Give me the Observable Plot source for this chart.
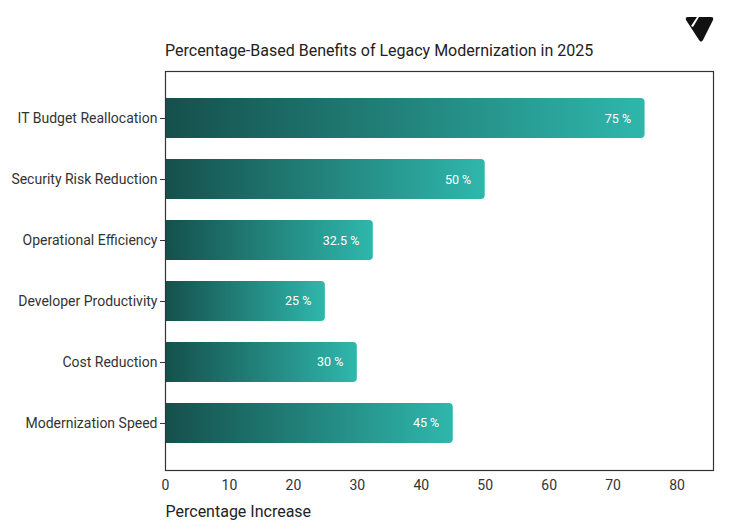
<!DOCTYPE html>
<html>
<head>
<meta charset="utf-8">
<script src="https://cdn.jsdelivr.net/npm/d3@7"></script>
<script src="https://cdn.jsdelivr.net/npm/@observablehq/plot@0.6"></script>
<style>
  body { margin: 0; background: #fff; font-family: Roboto, "Noto Sans", sans-serif; }
  #wrap { position: relative; width: 731px; height: 531px; }
  #title { position: absolute; left: 165px; top: 41px; font-size: 16px; color: #222; white-space: nowrap; }
  #logo { position: absolute; left: 684px; top: 16px; }
  #chart { position: absolute; left: 0; top: 0; }
</style>
</head>
<body>
<div id="wrap">
  <div id="chart"></div>
  <div id="title">Percentage-Based Benefits of Legacy Modernization in 2025</div>
  <svg id="logo" width="32" height="28" viewBox="0 0 32 28">
    <path d="M2 4 Q1 1 4 1 L13 1 L7 10 L9 11 L15 1 L27 1 Q30 1 29 4 L19 24 Q17 27 15 24 Z" fill="#111"/>
  </svg>
</div>
<script>
const categories = ["IT Budget Reallocation", "Security Risk Reduction", "Operational Efficiency", "Developer Productivity", "Cost Reduction", "Modernization Speed"];
const values = [75, 50, 32.5, 25, 30, 45];
const xTicks = [0, 10, 20, 30, 40, 50, 60, 70, 80];
const xLabel = "Percentage Increase";

const data = categories.map((c, i) => ({category: c, value: values[i]}));

const gradient = () => {
  const defs = d3.create("svg:defs");
  const g = defs.append("linearGradient").attr("id", "barGrad")
    .attr("x1", "0").attr("x2", "1").attr("y1", "0").attr("y2", "0");
  g.append("stop").attr("offset", "0%").attr("stop-color", "#15504c");
  g.append("stop").attr("offset", "100%").attr("stop-color", "#2fb7ac");
  return defs.node();
};

const chart = Plot.plot({
  width: 731,
  height: 531,
  marginLeft: 165,
  marginRight: 18,
  marginTop: 71,
  marginBottom: 61,
  style: {fontFamily: "Roboto, sans-serif", fontSize: "13px", color: "#333", background: "transparent"},
  x: {domain: [0, 85.7], ticks: xTicks, tickSize: 0, label: null},
  y: {domain: categories, paddingInner: 0.344, paddingOuter: 0.443, round: false, label: null},
  marks: [
    gradient,
    Plot.barX(data, {x: "value", y: "category", fill: "url(#barGrad)", rx2: 4}),
    Plot.text(data, {x: "value", y: "category", text: d => `${d.value} %`, textAnchor: "end", dx: -14, fill: "white", fontSize: 12.5, fontWeight: 400}),
    Plot.axisX({ticks: xTicks, tickSize: 0, tickPadding: 10, fontSize: 14, label: null}),
    Plot.axisY({tickSize: 5, tickPadding: 3, fontSize: 14, label: null}),
    Plot.text([xLabel], {frameAnchor: "bottom-left", text: d => d, dy: 46, fontSize: 16, textAnchor: "start", fill: "#222"}),
    Plot.frame({stroke: "#333", strokeWidth: 1.2})
  ]
});
document.getElementById("chart").appendChild(chart);
</script>
</body>
</html>
